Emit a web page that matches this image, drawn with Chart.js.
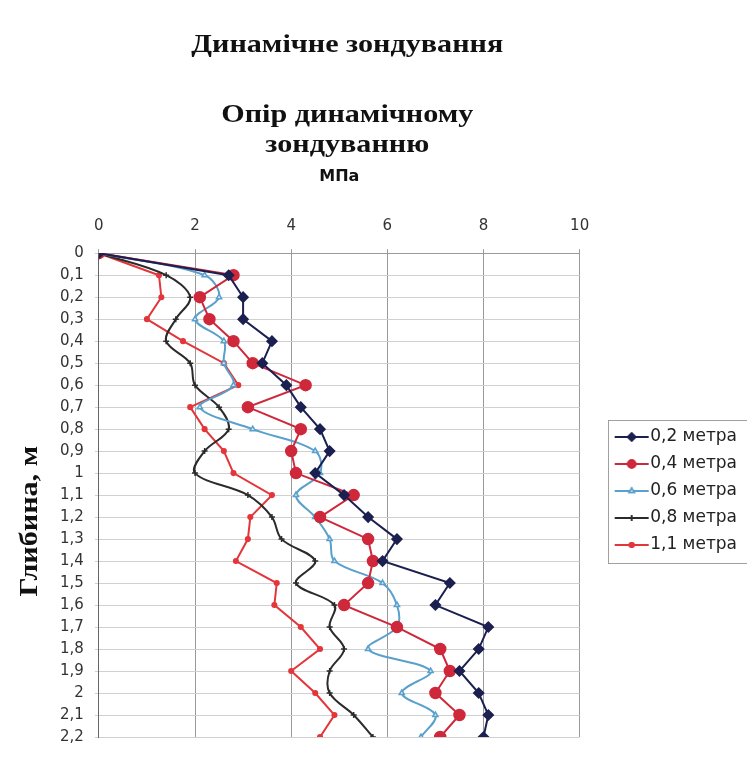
<!DOCTYPE html>
<html>
<head>
<meta charset="utf-8">
<script src="https://cdn.jsdelivr.net/npm/chart.js@4.4.1/dist/chart.umd.min.js"></script>
<style>
  html, body { margin: 0; padding: 0; background: #fff; overflow: hidden; }
  .wrap { width: 747px; height: 760px; }
</style>
</head>
<body>
<div class="wrap"><canvas id="chart"></canvas></div>
<script>
// depth, m
let depths = [0, 0.1, 0.2, 0.3, 0.4, 0.5, 0.6, 0.7, 0.8, 0.9, 1, 1.1, 1.2, 1.3, 1.4, 1.5, 1.6, 1.7, 1.8, 1.9, 2, 2.1, 2.2];
let xTicks = [0, 2, 4, 6, 8, 10];

// resistance, MPa
let s02 = [0, 2.7, 3.0, 3.0, 3.6, 3.4, 3.9, 4.2, 4.6, 4.8, 4.5, 5.1, 5.6, 6.2, 5.9, 7.3, 7.0, 8.1, 7.9, 7.5, 7.9, 8.1, 8.0];
let s04 = [0, 2.8, 2.1, 2.3, 2.8, 3.2, 4.3, 3.1, 4.2, 4.0, 4.1, 5.3, 4.6, 5.6, 5.7, 5.6, 5.1, 6.2, 7.1, 7.3, 7.0, 7.5, 7.1];
let s06 = [0, 2.2, 2.5, 2.0, 2.6, 2.6, 2.8, 2.1, 3.2, 4.5, 4.6, 4.1, 4.5, 4.8, 4.9, 5.9, 6.2, 6.2, 5.6, 6.9, 6.3, 7.0, 6.7];
let s08 = [0, 1.4, 1.9, 1.6, 1.4, 1.9, 2.0, 2.5, 2.7, 2.2, 2.0, 3.1, 3.6, 3.8, 4.5, 4.1, 4.9, 4.8, 5.1, 4.8, 4.8, 5.3, 5.7];
let s11 = [0, 1.25, 1.3, 1.0, 1.75, 2.6, 2.9, 1.9, 2.2, 2.6, 2.8, 3.6, 3.15, 3.1, 2.85, 3.7, 3.65, 4.2, 4.6, 4.0, 4.5, 4.9, 4.6];

let labels = ['0,2 метра', '0,4 метра', '0,6 метра', '0,8 метра', '1,1 метра'];

let titleText = 'Динамічне зондування';
let subtitleLines = ['Опір динамічному', 'зондуванню'];
let xTitle = 'МПа';
let yTitle = 'Глибина, м';

let sans = 'DejaVu Sans';
let serif = 'Liberation Serif';

let styles = [
    { color: '#1c2050', fill: '#1c2050', point: 'rectRot', radius: 5, tension: 0 },
    { color: '#cf283b', fill: '#cf283b', point: 'circle', radius: 5.5, tension: 0 },
    { color: '#5aa0cc', fill: '#d8eaf5', point: 'triangle', radius: 3, tension: 0.35 },
    { color: '#2b2b2b', fill: '#2b2b2b', point: 'cross', radius: 3, tension: 0.35 },
    { color: '#e3363b', fill: '#e3363b', point: 'circle', radius: 2.3, tension: 0 }
];

let series = [s02, s04, s06, s08, s11];

let toPoints = (vals) => vals.map((v, i) => ({ x: v, y: depths[i] }));

// line + marker icons for the legend
let makeIcon = (st) => {
    let c = document.createElement('canvas');
    c.width = 68;
    c.height = 14;
    let g = c.getContext('2d');
    g.strokeStyle = st.color;
    g.fillStyle = st.fill;
    g.lineWidth = 2;
    g.beginPath();
    g.moveTo(33, 7);
    g.lineTo(67, 7);
    g.stroke();
    g.lineWidth = 1.5;
    Chart.helpers.drawPoint(g, { pointStyle: st.point, radius: Math.min(st.radius, 4), borderWidth: 1.5 }, 50, 7);
    if (st.point !== 'cross') g.fill();
    g.stroke();
    return c;
};

let icons = styles.map(makeIcon);

let datasets = series.map((vals, i) => ({
    label: labels[i],
    data: toPoints(vals),
    showLine: true,
    borderColor: styles[i].color,
    backgroundColor: styles[i].fill,
    borderWidth: 2,
    pointStyle: styles[i].point,
    pointRadius: styles[i].radius,
    pointBorderWidth: 1.5,
    tension: styles[i].tension
}));

let commaFmt = (v) => String(Number(v.toFixed(1))).replace('.', ',');

// titles drawn a bit wide, like the original
let headerText = {
    id: 'headerText',
    afterDraw(chart) {
        let { ctx, chartArea } = chart;
        let cx = (chartArea.left + chartArea.right) / 2 + 8;
        let cy = (chartArea.top + chartArea.bottom) / 2 + 26;
        let put = (text, x, y, rot) => {
            ctx.save();
            ctx.translate(x, y);
            if (rot) ctx.rotate(rot);
            ctx.scale(1.16, 1);
            ctx.fillText(text, 0, 0);
            ctx.restore();
        };
        ctx.save();
        ctx.fillStyle = '#111';
        ctx.font = 'bold 26px "' + serif + '"';
        ctx.textAlign = 'center';
        ctx.textBaseline = 'alphabetic';
        put(titleText, cx, 52);
        put(subtitleLines[0], cx, 122);
        put(subtitleLines[1], cx, 152);
        put(yTitle, 37, cy, -Math.PI / 2);
        ctx.restore();
    }
};

let legendBorder = {
    id: 'legendBorder',
    afterDraw(chart) {
        let lg = chart.legend;
        if (!lg || !lg.legendHitBoxes.length) return;
        let boxes = lg.legendHitBoxes;
        let last = boxes[boxes.length - 1];
        let top = boxes[0].top - 9;
        let bottom = last.top + last.height + 9;
        let left = boxes[0].left + 18;
        let ctx = chart.ctx;
        ctx.save();
        ctx.strokeStyle = '#a0a0a0';
        ctx.lineWidth = 1;
        ctx.strokeRect(Math.round(left) + 0.5, Math.round(top) + 0.5, chart.width - left + 5, Math.round(bottom - top));
        ctx.restore();
    }
};

new Chart(document.getElementById('chart'), {
    type: 'scatter',
    data: { datasets: datasets },
    options: {
        responsive: true,
        maintainAspectRatio: false,
        animation: false,
        layout: { padding: { top: 167, left: 49, bottom: 23, right: 0 } },
        plugins: {
            legend: {
                position: 'right',
                // empty title only pushes the entries down to the plot's middle
                title: {
                    display: true,
                    text: ' ',
                    font: { family: sans, size: 10, lineHeight: 7.8 },
                    padding: 0
                },
                labels: {
                    font: { family: sans, size: 17 },
                    color: '#222',
                    usePointStyle: true,
                    pointStyleWidth: 52,
                    boxHeight: 17,
                    padding: 10,
                    generateLabels: (chart) => chart.data.datasets.map((ds, i) => ({
                        text: ds.label,
                        fontColor: '#222',
                        pointStyle: icons[i],
                        fillStyle: styles[i].color,
                        strokeStyle: styles[i].color,
                        lineWidth: 0,
                        hidden: false,
                        datasetIndex: i
                    }))
                }
            },
            tooltip: { enabled: false }
        },
        scales: {
            x: {
                type: 'linear',
                position: 'top',
                min: 0,
                max: 10,
                afterBuildTicks: (scale) => { scale.ticks = xTicks.map(v => ({ value: v })); },
                ticks: {
                    font: { family: sans, size: 15 },
                    color: '#333',
                    padding: 14
                },
                grid: { color: '#9a9a9a', tickLength: 4, lineWidth: 1 },
                border: { color: '#9a9a9a' },
                title: {
                    display: true,
                    text: xTitle,
                    color: '#111',
                    font: { family: sans, size: 16, weight: 'bold', lineHeight: 1.2 },
                    padding: { top: 0, bottom: 17 }
                }
            },
            y: {
                type: 'linear',
                reverse: true,
                min: 0,
                max: 2.2,
                afterBuildTicks: (scale) => { scale.ticks = depths.map(v => ({ value: v })); },
                ticks: {
                    autoSkip: false,
                    font: { family: sans, size: 15 },
                    color: '#333',
                    padding: 11,
                    callback: (v) => commaFmt(v)
                },
                grid: { color: '#d0d0d0', tickLength: 4, lineWidth: 1 },
                border: { color: '#666' }
            }
        }
    },
    plugins: [headerText, legendBorder]
});
</script>
</body>
</html>
